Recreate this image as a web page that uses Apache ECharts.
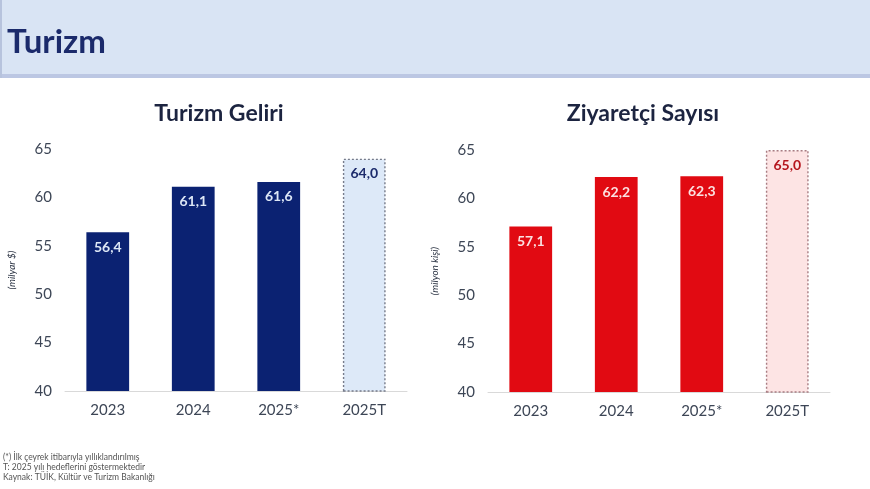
<!DOCTYPE html>
<html>
<head>
<meta charset="utf-8">
<title>Turizm</title>
<script src="https://cdn.jsdelivr.net/npm/echarts@6/dist/echarts.min.js"></script>
<style>
  html, body { margin: 0; padding: 0; background: #fff; }
  #chart { width: 870px; height: 489px; }
</style>
</head>
<body>
<div id="chart"></div>
<script>
// veriler
var years = ["2023", "2024", "2025*", "2025T"];
var gelir = [56.4, 61.1, 61.6, 64.0];      // milyar $
var ziyaretci = [57.1, 62.2, 62.3, 65.0];  // milyon kişi
var yTicks = [40, 45, 50, 55, 60, 65];
var notes = [
  "(*) İlk çeyrek itibarıyla yıllıklandırılmış",
  "T: 2025 yılı hedeflerini göstermektedir",
  "Kaynak: TÜİK, Kültür ve Turizm Bakanlığı"
];

var FONT = "Lato, 'Open Sans', sans-serif";

// sayıyı 56,4 şeklinde yaz
function fmt(v) {
  return v.toFixed(1).replace(".", ",");
}

// son çubuk (hedef) açık renk ve noktalı çerçeveli
function barData(values, main, target, border, lblMain, lblTarget) {
  return values.map(function (v, i) {
    var last = i === values.length - 1;
    return {
      value: v,
      itemStyle: last
        ? { color: target, borderColor: border, borderWidth: 1.4, borderType: [2, 2] }
        : { color: main },
      label: { color: last ? lblTarget : lblMain }
    };
  });
}

function xAx(idx) {
  return {
    type: "category",
    gridIndex: idx,
    data: years,
    axisTick: { show: false },
    axisLine: { lineStyle: { color: "#d9d9d9" } },
    axisLabel: { color: "#3d4656", fontSize: 15, fontFamily: FONT, margin: 12 }
  };
}

function yAx(idx, name) {
  return {
    type: "value",
    gridIndex: idx,
    min: yTicks[0],
    max: yTicks[yTicks.length - 1],
    interval: 5,
    splitLine: { show: false },
    axisLine: { show: false },
    axisTick: { show: false },
    axisLabel: { color: "#3d4656", fontSize: 15, fontFamily: FONT, margin: 13 },
    name: name,
    nameLocation: "middle",
    nameRotate: 90,
    nameGap: 48,
    nameTextStyle: { color: "#2c3444", fontSize: 10, fontStyle: "italic", fontFamily: FONT }
  };
}

var chart = echarts.init(document.getElementById("chart"));

chart.setOption({
  animation: false,
  backgroundColor: "#ffffff",
  title: [
    {
      text: "Turizm Geliri", left: 214, top: 97, textAlign: "center",
      textStyle: { color: "#1c2440", fontSize: 23, fontWeight: "bold", fontFamily: FONT }
    },
    {
      text: "Ziyaretçi Sayısı", left: 638, top: 97, textAlign: "center",
      textStyle: { color: "#1c2440", fontSize: 23, fontWeight: "bold", fontFamily: FONT }
    }
  ],
  grid: [
    { left: 65, top: 149, width: 342, height: 242 },
    { left: 488, top: 150, width: 342, height: 242 }
  ],
  xAxis: [xAx(0), xAx(1)],
  yAxis: [yAx(0, "(milyar $)"), yAx(1, "(milyon kişi)")],
  series: [
    {
      type: "bar",
      xAxisIndex: 0,
      yAxisIndex: 0,
      barWidth: "50%",
      data: barData(gelir, "#0b2272", "#dde9f8", "#767b8a", "#dde7f6", "#1b2a6b"),
      label: {
        show: true, position: "insideTop", distance: 8,
        fontSize: 14, fontWeight: "bold", fontFamily: FONT,
        formatter: function (p) { return fmt(p.value); }
      }
    },
    {
      type: "bar",
      xAxisIndex: 1,
      yAxisIndex: 1,
      barWidth: "50%",
      data: barData(ziyaretci, "#e10a12", "#fde4e4", "#a87c82", "#fbe1e1", "#b5141c"),
      label: {
        show: true, position: "insideTop", distance: 8,
        fontSize: 14, fontWeight: "bold", fontFamily: FONT,
        formatter: function (p) { return fmt(p.value); }
      }
    }
  ],
  graphic: [
    // üst bant
    { type: "rect", left: 0, top: 0, shape: { width: 870, height: 78 }, style: { fill: "#d9e4f4" }, z: 0 },
    { type: "rect", left: 0, top: 74, shape: { width: 870, height: 4 }, style: { fill: "#bcc7e3" }, z: 1 },
    { type: "rect", left: 0, top: 0, shape: { width: 2, height: 78 }, style: { fill: "#b7c3dd" }, z: 1 },
    {
      type: "text", left: 7, top: 26, z: 2,
      style: { text: "Turizm", fill: "#1b2a6b", font: "bold 33px " + FONT }
    },
    // dipnotlar
    { type: "text", left: 3, top: 453, style: { text: notes[0], fill: "#555", font: "8.5px " + FONT } },
    { type: "text", left: 3, top: 463, style: { text: notes[1], fill: "#555", font: "8.5px " + FONT } },
    { type: "text", left: 3, top: 473, style: { text: notes[2], fill: "#555", font: "8.5px " + FONT } }
  ]
});
</script>
</body>
</html>
